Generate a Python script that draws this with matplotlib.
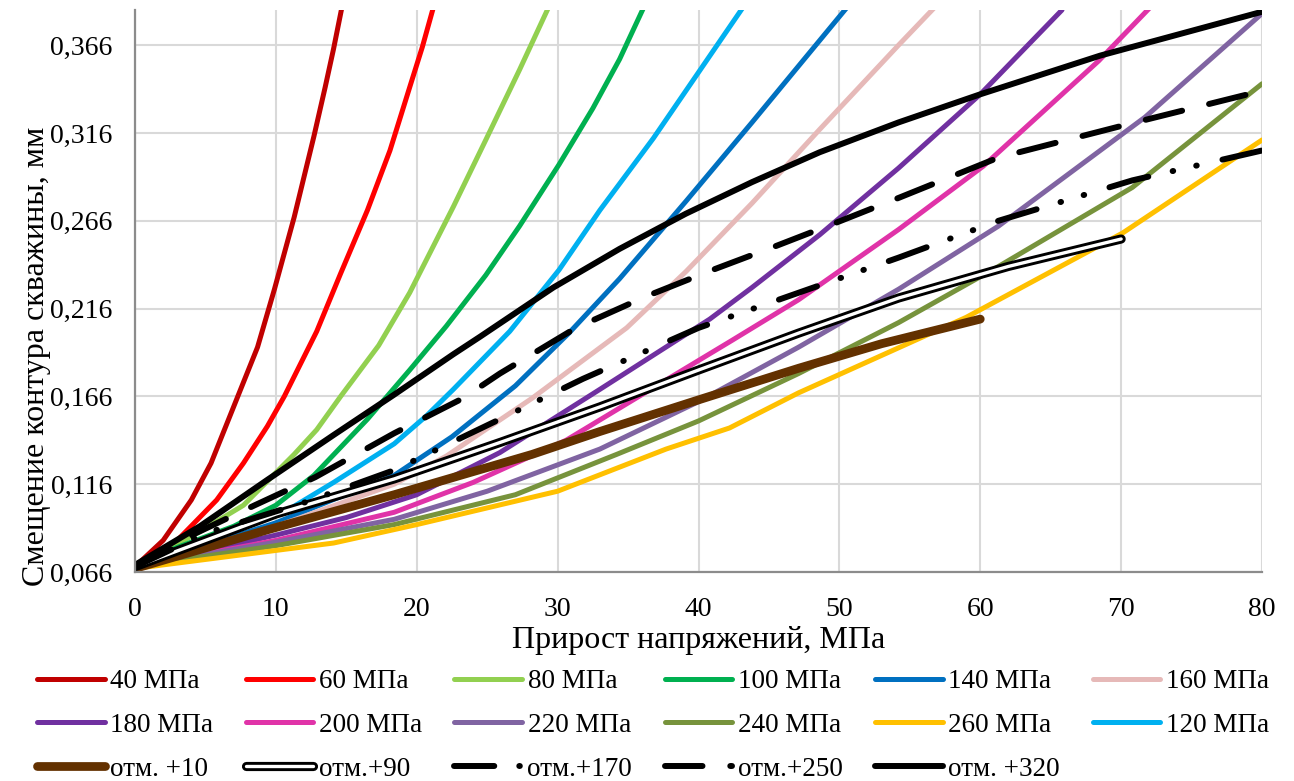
import matplotlib
matplotlib.use("Agg")
import matplotlib.pyplot as plt
import matplotlib.patheffects as pe
from matplotlib.ticker import FixedLocator, FuncFormatter

plt.rcParams['font.family'] = ['Liberation Serif', 'DejaVu Serif']
plt.rcParams['lines.scale_dashes'] = False

# ---- data: displacement of the borehole contour (mm) vs stress increment (MPa)
x_40 = [0, 2, 4, 5.4, 7.0, 8.7, 9.9, 11.3, 12.7, 13.5, 14.1, 14.8]
y_40 = [0.069, 0.084, 0.107, 0.128, 0.160, 0.194, 0.227, 0.268, 0.314, 0.342, 0.364, 0.392]

x_60 = [0, 3, 5.8, 7.7, 9.4, 10.6, 12.9, 14.6, 16.5, 18.1, 19.5, 20.4, 21.2]
y_60 = [0.069, 0.084, 0.107, 0.128, 0.149, 0.166, 0.203, 0.236, 0.272, 0.306, 0.342, 0.365, 0.388]

x_80 = [0, 4.6, 7.7, 11.3, 12.9, 14.6, 17.3, 19.5, 22.6, 24.9, 27.3, 29.5]
y_80 = [0.069, 0.089, 0.104, 0.133, 0.147, 0.166, 0.195, 0.225, 0.274, 0.312, 0.352, 0.390]

x_100 = [0, 3, 7.0, 10.0, 12.7, 16.5, 19.5, 22.1, 24.9, 27.3, 30.1, 32.5, 34.4, 36.2]
y_100 = [0.069, 0.080, 0.092, 0.104, 0.121, 0.153, 0.181, 0.206, 0.235, 0.263, 0.298, 0.330,
         0.358, 0.389]

x_140 = [0, 5, 10, 14, 18.4, 22.5, 27.0, 30.8, 34.4, 39.1, 43.8, 47.4, 50.8]
y_140 = [0.069, 0.081, 0.094, 0.107, 0.121, 0.143, 0.172, 0.202, 0.233, 0.277, 0.322, 0.357, 0.390]

x_160 = [0, 10, 18.4, 22.1, 28.2, 34.9, 39.1, 43.8, 48.6, 54.2, 57.3]
y_160 = [0.069, 0.092, 0.116, 0.132, 0.165, 0.205, 0.237, 0.276, 0.318, 0.366, 0.392]

x_180 = [0, 5, 10, 15, 20, 25.9, 33.0, 40.8, 43.8, 48.6, 54.2, 60.0, 65.8]
y_180 = [0.069, 0.078, 0.087, 0.097, 0.110, 0.134, 0.170, 0.210, 0.228, 0.258, 0.296, 0.338, 0.386]

x_200 = [0, 10, 18.4, 24.0, 30.6, 42.4, 47.1, 54.2, 60.2, 68.4, 72.0]
y_200 = [0.069, 0.084, 0.100, 0.117, 0.141, 0.198, 0.221, 0.261, 0.297, 0.357, 0.387]

x_220 = [0, 10, 18.4, 25.0, 33.0, 40.0, 47.1, 54.2, 61.3, 71.7, 80]
y_220 = [0.069, 0.083, 0.096, 0.112, 0.136, 0.163, 0.194, 0.227, 0.263, 0.325, 0.384]

x_240 = [0, 10, 18.4, 27.0, 34.2, 40.0, 47.1, 54.2, 61.3, 70.8, 80]
y_240 = [0.069, 0.081, 0.093, 0.110, 0.133, 0.152, 0.179, 0.208, 0.240, 0.285, 0.344]

x_260 = [0, 14.1, 20, 30, 37.7, 42.2, 47.1, 59.0, 70.1, 80]
y_260 = [0.068, 0.0825, 0.093, 0.112, 0.136, 0.148, 0.168, 0.211, 0.259, 0.312]

x_120 = [0, 5, 11.0, 14.1, 18.4, 20.7, 22.6, 26.6, 30.1, 33.0, 36.8, 40.3, 43.2]
y_120 = [0.069, 0.083, 0.102, 0.117, 0.139, 0.155, 0.170, 0.203, 0.238, 0.272, 0.313, 0.354, 0.388]

x_m10 = [0, 9.4, 18.4, 28.2, 33.0, 40.0, 47.1, 53.0, 60.0]
y_m10 = [0.068, 0.090, 0.110, 0.133, 0.146, 0.164, 0.182, 0.196, 0.210]

x_m90 = [0, 10, 18.4, 26.0, 33.0, 40.0, 47.1, 54.2, 62.0, 70.0]
y_m90 = [0.069, 0.099, 0.119, 0.140, 0.160, 0.181, 0.202, 0.222, 0.240, 0.2556]

x_m170 = [0, 5, 12.2, 18.4, 25.9, 31.8, 40.0, 47.1, 54.2, 61.3, 70.8, 80]
y_m170 = [0.069, 0.088, 0.106, 0.124, 0.153, 0.176, 0.205, 0.225, 0.245, 0.266, 0.289, 0.306]

x_m250 = [0, 4.3, 8.5, 12.8, 18.4, 23.3, 25.9, 31.3, 36.3, 41.0, 45.3, 49.8, 54.2, 61.3, 70.8, 80]
y_m250 = [0.069, 0.088, 0.104, 0.120, 0.145, 0.165, 0.179, 0.205, 0.223, 0.238, 0.251, 0.265,
          0.279, 0.302, 0.3216, 0.340]

x_m320 = [0, 4.6, 9.4, 14.1, 18.4, 22.6, 24.5, 29.7, 34.4, 39.1, 43.8, 48.6, 54.2, 60.0, 68.5, 80]
y_m320 = [0.070, 0.092, 0.1185, 0.144, 0.167, 0.190, 0.200, 0.228, 0.250, 0.270, 0.288, 0.305,
          0.322, 0.338, 0.360, 0.385]

labels = ["40 МПа", "60 МПа", "80 МПа", "100 МПа", "140 МПа", "160 МПа",
          "180 МПа", "200 МПа", "220 МПа", "240 МПа", "260 МПа", "120 МПа",
          "отм. +10", "отм.+90", "отм.+170", "отм.+250", "отм. +320"]

x_ticks = [0, 10, 20, 30, 40, 50, 60, 70, 80]
y_ticks = [0.066, 0.116, 0.166, 0.216, 0.266, 0.316, 0.366]

# ---- figure
fig = plt.figure(figsize=(12.94, 7.81), dpi=100)
ax = fig.add_axes([0.1043, 0.2676, 0.8710, 0.7196])

lw = 3.6
series = [
    (x_40, y_40, dict(color="#C00000", lw=lw)),
    (x_60, y_60, dict(color="#FF0000", lw=lw)),
    (x_80, y_80, dict(color="#92D050", lw=lw)),
    (x_100, y_100, dict(color="#00B050", lw=lw)),
    (x_140, y_140, dict(color="#0070C0", lw=lw)),
    (x_160, y_160, dict(color="#E6B9B8", lw=lw)),
    (x_180, y_180, dict(color="#7030A0", lw=lw)),
    (x_200, y_200, dict(color="#E033A8", lw=lw)),
    (x_220, y_220, dict(color="#8064A2", lw=lw)),
    (x_240, y_240, dict(color="#77933C", lw=lw)),
    (x_260, y_260, dict(color="#FFC000", lw=lw)),
    (x_120, y_120, dict(color="#00B0F0", lw=lw)),
    (x_m10, y_m10, dict(color="#633100", lw=6.3)),
    (x_m90, y_m90, dict(color="white", lw=2.4,
                        path_effects=[pe.Stroke(linewidth=6.6, foreground="black"), pe.Normal()])),
    (x_m170, y_m170, dict(color="black", lw=4.3, dashes=(29, 18, 0.4, 17, 0.4, 19),
                          dash_capstyle="round")),
    (x_m250, y_m250, dict(color="black", lw=4.3, dashes=(27, 20), dash_capstyle="round")),
    (x_m320, y_m320, dict(color="black", lw=4.3)),
]

handles = []
for (xs, ys, kw), lab in zip(series, labels):
    h, = ax.plot(xs, ys, label=lab, solid_capstyle="round", solid_joinstyle="round", **kw)
    handles.append(h)

ax.set_xlim(0, 80)
ax.set_ylim(0.066, 0.386)
ax.xaxis.set_major_locator(FixedLocator(x_ticks))
ax.yaxis.set_major_locator(FixedLocator(y_ticks))
ax.yaxis.set_major_formatter(FuncFormatter(lambda v, p: f"{v:.3f}".replace(".", ",")))
ax.grid(True, color="#D9D9D9", lw=1.5)
ax.set_axisbelow(True)
for s in ("top", "right"):
    ax.spines[s].set_visible(False)
for s in ("left", "bottom"):
    ax.spines[s].set_color("#8C8C8C")
    ax.spines[s].set_linewidth(1.6)
ax.tick_params(axis="both", length=0, labelsize=20)
ax.tick_params(axis="y", pad=16)
ax.tick_params(axis="x", pad=18)

ax.set_xlabel("Прирост напряжений, МПа", fontsize=23, labelpad=3)
ax.set_ylabel("Смещение контура скважины, мм", fontsize=23)
ax.yaxis.set_label_coords(-0.0745, 0.384)

# legend laid out in rows of six (column-major fill order)
order = [0, 6, 12, 1, 7, 13, 2, 8, 14, 3, 9, 15, 4, 10, 16, 5, 11]
fig.legend([handles[i] for i in order], [labels[i] for i in order],
           ncol=6, loc="upper left", bbox_to_anchor=(37 / 1294, 1 - 669 / 781),
           frameon=False, fontsize=19.5, handlelength=2.5, handletextpad=0.2,
           columnspacing=1.2, labelspacing=0.7, borderpad=0, borderaxespad=0)

fig.savefig("out.png", dpi=100)
